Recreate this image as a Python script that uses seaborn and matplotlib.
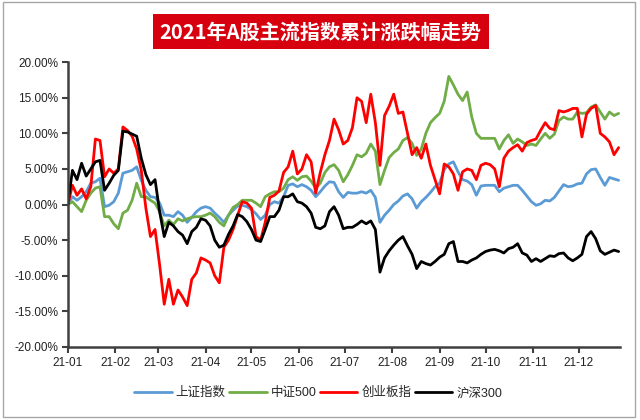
import pandas as pd
import matplotlib
matplotlib.use('Agg')
import matplotlib.pyplot as plt
import matplotlib.dates as mdates
from matplotlib.patches import Rectangle
from matplotlib.ticker import FuncFormatter, MultipleLocator
import seaborn as sns

sns.set_style('white')
plt.rcParams['font.family'] = ['Liberation Sans', 'Noto Sans CJK SC', 'DejaVu Sans']

# ================= data (every 3 calendar days) =================
dates = pd.date_range('2021-01-01', '2021-12-27', freq='3D')

sh_index = [0, 1.1, 0.6, 1.1, 1.8, 3.0, 3.2, 3.7, -0.3, -0.1, 0.4, 1.6, 4.4, 4.6, 4.8, 5.3, 3.4, 2.0, 1.1, 1.0,
            0.2, -1.5, -1.5, -1.7, -1.0, -1.5, -2.5, -1.8, -1.0, -0.5, -0.3, -0.5, -1.2, -1.8, -2.5, -1.5, -0.8, -0.2, -0.1, -0.3,
            -0.7, -1.3, -2.1, -1.5, 0.0, 0.4, 0.2, 1.1, 2.7, 2.9, 2.5, 2.8, 2.5, 2.0, 1.1, 1.8, 2.6, 3.2, 3.1, 1.8,
            1.0, 1.7, 1.6, 1.6, 1.8, 1.6, 2.0, 1.0, -2.5, -1.5, -0.8, 0.0, 0.5, 1.2, 1.5, 0.8, -0.5, 0.4, 1.0, 1.7,
            2.5, 3.0, 4.9, 5.7, 6.0, 4.6, 3.5, 3.3, 2.8, 1.3, 2.6, 2.7, 2.7, 2.7, 1.8, 2.3, 2.5, 2.7, 2.7, 2.0,
            1.2, 0.4, -0.1, 0.1, 0.6, 0.5, 1.0, 1.9, 2.8, 2.5, 2.6, 2.9, 3.0, 4.3, 4.9, 5.0, 3.8, 2.7, 3.8, 3.6,
            3.4]

zz500 = [0, 0.4, -0.3, -1.0, 0.6, 1.6, 2.3, 2.5, -1.7, -1.7, -2.7, -3.4, -1.2, -0.8, 0.6, 3.0, 1.1, 1.1, 0.6, 0.2,
         -1.0, -3.0, -2.2, -2.8, -2.0, -2.3, -2.0, -1.8, -1.7, -1.7, -1.5, -1.2, -1.7, -2.5, -3.0, -1.5, -0.4, 0.0, 0.6, 0.6,
         0.6, 0.2, -0.3, 1.1, 1.5, 1.8, 1.8, 2.3, 3.5, 3.9, 3.4, 3.9, 4.0, 3.3, 2.3, 3.0, 4.5, 5.3, 5.6, 4.8,
         3.2, 4.2, 5.5, 7.0, 6.7, 7.2, 8.5, 7.5, 2.8, 4.8, 6.6, 7.3, 7.8, 9.0, 9.4, 8.6, 6.9, 7.8, 10.0, 11.5,
         12.2, 12.8, 14.5, 18.0, 16.8, 15.5, 14.6, 15.8, 12.3, 10.0, 9.3, 9.3, 9.3, 9.3, 7.8, 9.0, 9.8, 8.6, 9.2, 8.8,
         8.3, 8.5, 8.3, 9.2, 10.0, 9.3, 9.9, 11.8, 12.3, 12.0, 12.0, 13.0, 12.8, 12.9, 13.7, 14.0, 13.0, 12.0, 13.0, 12.5,
         12.8]

cyb = [0, 2.7, 1.3, 2.2, 0.8, 2.5, 9.2, 9.0, 3.9, 5.0, 4.4, 5.0, 10.9, 10.4, 9.6, 7.8, 4.8, -0.5, -4.5, -3.5,
       -8.5, -14.0, -10.5, -14.0, -12.0, -13.0, -14.2, -10.5, -9.6, -7.5, -7.8, -8.2, -10.0, -11.0, -6.0, -5.0, -3.5, -1.5, 0.4, 0.2,
       -0.5, -4.5, -5.0, -2.5, 1.0, 1.3, 1.9, 4.5, 5.3, 7.5, 4.3, 5.0, 7.0, 6.0, 1.6, 4.5, 7.0, 9.0, 12.0, 10.5,
       8.5, 9.0, 10.8, 15.0, 14.5, 11.5, 15.5, 11.5, 5.5, 12.5, 13.8, 15.5, 12.8, 13.0, 10.0, 7.0, 8.0, 6.5, 8.5, 5.5,
       3.5, 1.5, 5.7, 5.3, 4.3, 2.0, 4.6, 5.0, 4.8, 3.5, 5.5, 5.8, 5.6, 5.0, 2.5, 6.5, 7.5, 8.0, 8.4, 7.5,
       8.7, 9.0, 9.2, 10.4, 11.5, 10.7, 10.5, 13.2, 13.0, 13.2, 13.5, 13.5, 9.5, 12.7, 13.5, 13.9, 10.0, 9.5, 8.8, 7.0,
       8.0]

hs300 = [0, 4.8, 3.5, 5.8, 4.0, 5.0, 6.0, 6.2, 2.0, 3.0, 4.1, 4.8, 10.3, 10.2, 9.9, 9.6, 6.5, 4.2, 2.8, 3.5,
         -1.0, -4.5, -2.5, -3.0, -3.8, -4.3, -5.5, -3.8, -3.2, -2.0, -2.2, -3.0, -5.0, -6.0, -5.7, -4.2, -3.0, -1.4, -1.7, -2.4,
         -3.5, -5.0, -5.2, -3.5, -1.7, -1.7, -0.8, 1.1, 1.1, 1.5, 0.4, 0.2, -0.3, -1.2, -3.2, -3.4, -3.0, -1.0, -0.3, -1.5,
         -3.4, -3.2, -3.2, -2.8, -2.3, -2.7, -2.3, -3.5, -9.5, -7.5, -6.5, -5.7, -5.0, -4.5, -5.8, -7.0, -9.0, -8.0, -8.3, -8.5,
         -8.0, -7.4, -7.0, -5.5, -5.2, -8.0, -8.0, -8.2, -7.8, -7.5, -7.0, -6.6, -6.4, -6.3, -6.5, -6.8, -6.2, -6.0, -5.5, -6.8,
         -7.1, -8.0, -7.6, -8.0, -7.6, -7.2, -7.3, -6.9, -6.8, -7.5, -7.9, -7.5, -7.0, -4.5, -3.8, -4.8, -6.5, -7.0, -6.7, -6.4,
         -6.6]

names = ['上证指数', '中证500', '创业板指', '沪深300']
colors = ['#5B9BD5', '#70AD47', '#FF0000', '#000000']
title = '2021年A股主流指数累计涨跌幅走势'

series = [sh_index, zz500, cyb, hs300]
df = pd.concat([pd.DataFrame({'date': dates, 'value': s, 'index': n}) for n, s in zip(names, series)],
               ignore_index=True)

# ================= plot =================
fig, ax = plt.subplots(figsize=(6.4, 4.2), dpi=100)
fig.subplots_adjust(left=0.106, right=0.969, top=0.852, bottom=0.174)

sns.lineplot(data=df, x='date', y='value', hue='index', hue_order=names,
             palette=dict(zip(names, colors)), lw=2, ax=ax, legend=True)

ax.set_xlim(pd.Timestamp('2021-01-01'), pd.Timestamp('2021-12-28'))
ax.set_ylim(-20, 20)
ax.yaxis.set_major_locator(MultipleLocator(5))
ax.yaxis.set_major_formatter(FuncFormatter(lambda v, _: f'{v:.2f}%'))
ax.xaxis.set_major_locator(mdates.MonthLocator())
ax.xaxis.set_major_formatter(mdates.DateFormatter('%y-%m'))
ax.set_xlabel('')
ax.set_ylabel('')

for side in ['top', 'right']:
    ax.spines[side].set_visible(False)
for side in ['left', 'bottom']:
    ax.spines[side].set_color('#404040')
    ax.spines[side].set_linewidth(1.8)
ax.tick_params(axis='both', direction='out', length=4, width=1.5, color='#404040',
               labelsize=8.5, labelcolor='#222222', pad=3)
ax.tick_params(axis='x', bottom=True)
ax.tick_params(axis='y', left=True)

ax.get_legend().remove()
handles, labels = ax.get_legend_handles_labels()
fig.legend(handles, labels, loc='center', bbox_to_anchor=(0.497, 0.064), ncol=4, frameon=False,
           fontsize=9, handlelength=3.0, handletextpad=0.3, columnspacing=0.3)

fig.text(0.501, 0.924, title, ha='center', va='center', color='white', fontsize=14.5,
         fontweight='bold', family=['Noto Sans CJK SC', 'DejaVu Sans'],
         bbox=dict(boxstyle='square,pad=0.35', fc='#D7000F', ec='none'))

fig.patches.append(Rectangle((0.004, 0.006), 0.988, 0.99, transform=fig.transFigure,
                             fill=False, ec='#A6A6A6', lw=1))

fig.savefig('out.png', dpi=100)
